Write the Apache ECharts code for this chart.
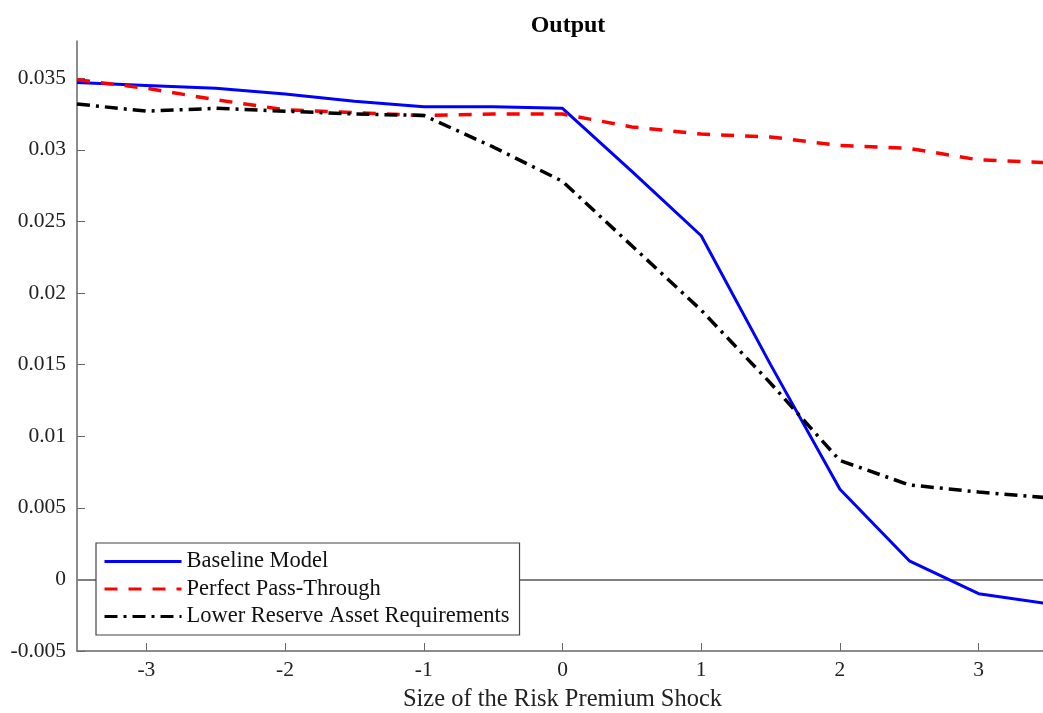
<!DOCTYPE html>
<html>
<head>
<meta charset="utf-8">
<script src="https://cdn.jsdelivr.net/npm/echarts@6/dist/echarts.min.js"></script>
<style>
  html, body { margin: 0; padding: 0; background: #fff; }
  #chart { width: 1043px; height: 713px; }
</style>
</head>
<body>
<div id="chart"></div>
<script>
// shock sizes (x) and the three model responses
var shockSize = [-3.5, -3, -2.5, -2, -1.5, -1, -0.5, 0, 0.5, 1, 1.5, 2, 2.5, 3, 3.5];
var baseline  = [0.0347, 0.0345, 0.0343, 0.0339, 0.0334, 0.0330, 0.0330, 0.0329, 0.0285, 0.0240, 0.0150, 0.0063, 0.0013, -0.0010, -0.0017];
var passThru  = [0.0349, 0.0343, 0.0335, 0.0328, 0.0326, 0.0324, 0.0325, 0.0325, 0.0316, 0.0311, 0.0309, 0.0303, 0.0301, 0.0293, 0.0291];
var lowerRes  = [0.0332, 0.0327, 0.0329, 0.0327, 0.0325, 0.0324, 0.0302, 0.0278, 0.0233, 0.0188, 0.0137, 0.0083, 0.0066, 0.0061, 0.0057];

var seriesNames = ['Baseline Model', 'Perfect Pass-Through', 'Lower Reserve Asset Requirements'];
var xTicks = [-3, -2, -1, 0, 1, 2, 3];
var yTicks = [-0.005, 0, 0.005, 0.01, 0.015, 0.02, 0.025, 0.03, 0.035];

function pairs(ys) {
    return shockSize.map(function (x, i) { return [x, ys[i]]; });
}

var FONT = '"Liberation Serif", "Times New Roman", serif';

var chart = echarts.init(document.getElementById('chart'));
var option = {
    backgroundColor: '#fff',
    animation: false,
    title: {
        text: 'Output',
        left: 563,
        top: 9,
        textAlign: 'center',
        textStyle: { fontFamily: FONT, fontSize: 24, fontWeight: 'bold', color: '#000' }
    },
    legend: {
        orient: 'vertical',
        left: 96,
        top: 543,
        z: 20,
        padding: [7, 10, 7, 7],
        itemGap: 4.5,
        itemWidth: 77,
        itemHeight: 14,
        backgroundColor: '#fff',
        borderColor: '#444',
        borderWidth: 1.2,
        borderRadius: 0,
        itemStyle: { opacity: 0 },
        lineStyle: { width: 3 },
        textStyle: { fontFamily: FONT, fontSize: 22.5, color: '#111', lineHeight: 22 },
        data: seriesNames
    },
    grid: { left: 77, right: -5, top: 41, bottom: 62, outerBoundsMode: 'none', containLabel: false },
    xAxis: {
        type: 'value',
        min: -3.5,
        max: 3.5,
        name: 'Size of the Risk Premium Shock',
        nameLocation: 'middle',
        nameGap: 36,
        nameTextStyle: { fontFamily: FONT, fontSize: 24.5, color: '#222' },
        axisLine: { onZero: false, lineStyle: { color: '#666', width: 1.5 } },
        axisTick: { inside: true, length: 8, lineStyle: { color: '#666' }, customValues: xTicks },
        axisLabel: { fontFamily: FONT, fontSize: 21.5, color: '#222', margin: 8, customValues: xTicks },
        splitLine: { show: false }
    },
    yAxis: {
        type: 'value',
        min: -0.005,
        max: 0.0376,
        axisLine: { show: true, onZero: false, lineStyle: { color: '#666', width: 1.5 } },
        axisTick: { show: true, inside: true, length: 8, lineStyle: { color: '#666' }, customValues: yTicks },
        axisLabel: { fontFamily: FONT, fontSize: 21.5, color: '#222', margin: 11, customValues: yTicks },
        splitLine: { show: false }
    },
    series: [
        {
            name: seriesNames[0],
            type: 'line',
            data: pairs(baseline),
            symbol: 'none',
            z: 3,
            lineStyle: { color: '#0000ff', width: 3 },
            itemStyle: { color: '#0000ff' },
            markLine: {
                silent: true,
                symbol: 'none',
                z: 2,
                label: { show: false },
                lineStyle: { color: '#808080', width: 2, type: 'solid' },
                data: [{ yAxis: 0 }]
            }
        },
        {
            name: seriesNames[1],
            type: 'line',
            data: pairs(passThru),
            symbol: 'none',
            lineStyle: { color: '#ff0000', width: 3.5, type: [13, 11] },
            itemStyle: { color: '#ff0000' }
        },
        {
            name: seriesNames[2],
            type: 'line',
            data: pairs(lowerRes),
            symbol: 'none',
            lineStyle: { color: '#000000', width: 3.5, type: [13, 6, 3, 6] },
            itemStyle: { color: '#000000' }
        }
    ]
};
chart.setOption(option);
</script>
</body>
</html>
